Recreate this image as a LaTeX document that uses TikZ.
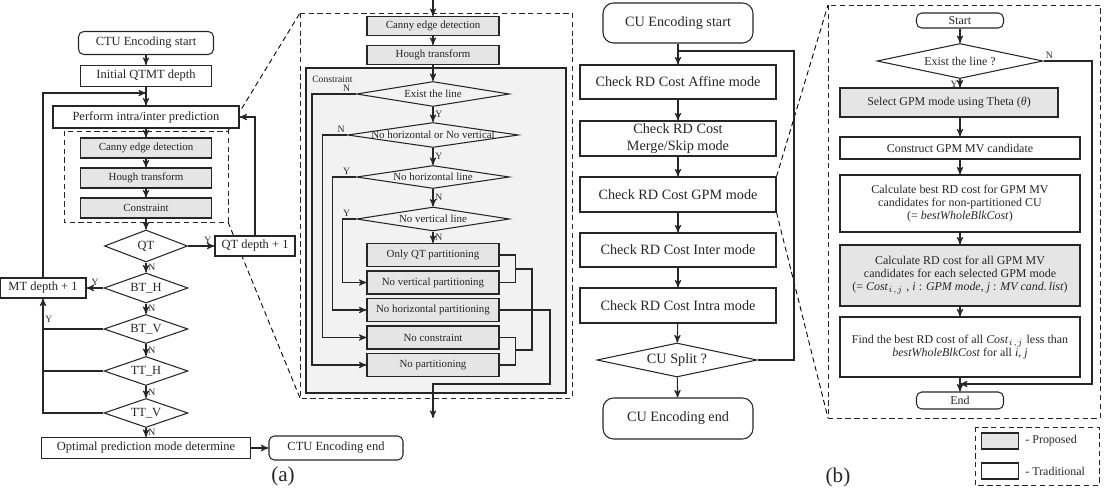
\documentclass[tikz,border=0pt]{standalone}
\usepackage{fontspec}
\setmainfont{Liberation Serif}
\usepackage{tikz}
\usetikzlibrary{
        arrows,
        backgrounds,
        positioning,
        shapes.geometric
    }
\tikzset{>=stealth',auto}
\tikzset{
    wh/.style 2 args={minimum width=#1*0.02cm, minimum height=#2*0.02cm},
    txa/.style={font=\fontsize{7.1}{8}\selectfont},
    txs/.style={font=\fontsize{6.2}{7}\selectfont},
    txc/.style={font=\fontsize{8.1}{9.4}\selectfont},
    txr/.style={font=\fontsize{6.8}{7.4}\selectfont},
    yn/.style={font=\fontsize{5.5}{6}\selectfont, inner sep=1pt},
    blk/.style={rectangle, draw, fill=white, inner sep=1pt, align=center},
    prop/.style={blk, fill=black!10},
    term/.style={blk, rounded corners=3pt},
    dec/.style={diamond, draw, fill=white, inner sep=0pt, label={[txa]center:#1}},
    sdec/.style={diamond, draw, fill=black!5, inner sep=0pt, label={[txs]center:#1}},
    cdec/.style={diamond, draw, fill=white, inner sep=0pt, label={[txc]center:#1}},
    rdec/.style={diamond, draw, fill=white, inner sep=0pt, label={[txr]center:#1}},
    zoomline/.style={densely dashed, line width=0.5pt}
}

\begin{document}
\begin{tikzpicture}[x=0.02cm,y=-0.02cm,line width=0.6pt,color=black!85]
    \useasboundingbox (0,0) rectangle (1107,493);

    % (a) QTMT flow
    \node[term, txa, wh={135}{23}] (ctus) at (146,43) {CTU Encoding start};
    \node[blk, txa, wh={131}{21}] (qtmt) at (146,76) {Initial QTMT depth};
    \node[blk, txa, wh={186}{22}] (pred) at (146,117) {Perform intra/inter prediction};
    \node[prop, txs, wh={131}{20}] (canA) at (146,148) {Canny edge detection};
    \node[prop, txs, wh={131}{20}] (houA) at (146,178) {Hough transform};
    \node[prop, txs, wh={131}{20}] (conA) at (146,208) {Constraint};
    \node[dec=QT, wh={83}{32}] (qt) at (146,246) {};
    \node[blk, txa, wh={80}{20}] (qtd) at (255,246) {QT depth + 1};
    \node[dec=BT\_H, wh={84}{30}] (bth) at (146,288) {};
    \node[dec=BT\_V, wh={84}{29}] (btv) at (146,329) {};
    \node[dec=TT\_H, wh={84}{29}] (tth) at (146,371) {};
    \node[dec=TT\_V, wh={84}{29}] (ttv) at (146,413) {};
    \node[blk, txa, wh={209}{21}] (opt) at (146,448) {Optimal prediction mode determine};
    \node[term, txa, wh={134}{24}] (ctue) at (336,448) {CTU Encoding end};
    \node[blk, txa, wh={86}{20}] (mtd) at (43,288) {MT depth + 1};
    \coordinate (jA) at (146,93);

    \draw[zoomline] (64,131) rectangle (228,222);

    \path[->]
        (ctus) edge (qtmt)
        (qtmt) edge (pred)
        (pred) edge (canA)
        (canA) edge (houA)
        (houA) edge (conA)
        (conA) edge (qt)
        (qt)  edge node[yn, pos=0.75] {Y} (qtd)
        (qt)  edge node[yn] {N} (bth)
        (bth) edge node[yn, swap] {Y} (mtd)
        (bth) edge node[yn] {N} (btv)
        (btv) edge node[yn] {N} (tth)
        (tth) edge node[yn] {N} (ttv)
        (ttv) edge node[yn] {N} (opt)
        (opt) edge (ctue)
        ;
    \draw[->] (mtd.north) |- (jA);
    \draw[->] (qtd.north) |- (pred.east);
    \draw (btv.west) -- (btv.west -| mtd);
    \draw (tth.west) -- (tth.west -| mtd);
    \draw[->] (ttv.west) -| node[yn, right, pos=0.91] {Y} (mtd.south);
    \node[font=\fontsize{12}{14}\selectfont] (capa) at (283,476) {(a)};

    % constraint detail
    \draw[zoomline] (300,13) rectangle (572,398);
    \coordinate (inB) at (433,0);
    \coordinate (outB) at (433,418);
    \node[prop, txs, wh={132}{19}] (canB) at (433,26) {Canny edge detection};
    \node[prop, txs, wh={132}{19}] (houB) at (433,55) {Hough transform};
    \draw[fill=black!5] (306,68) rectangle (566,393);
    \node[yn, anchor=west] (cst) at (310,79) {Constraint};
    \node[sdec=Exist the line, wh={153}{25}] (ext) at (433,94) {};
    \node[sdec=No horizontal or No vertical, wh={171}{25}] (nhv) at (433,135) {};
    \node[sdec=No horizontal line, wh={153}{23}] (nhl) at (433,177) {};
    \node[sdec=No vertical line, wh={153}{24}] (nvl) at (433,219) {};
    \node[prop, txs, wh={132}{23}] (oqt) at (433,255) {Only QT partitioning};
    \node[prop, txs, wh={132}{23}] (nvp) at (433,282.5) {No vertical partitioning};
    \node[prop, txs, wh={132}{23}] (nhp) at (433,310) {No horizontal partitioning};
    \node[prop, txs, wh={132}{23}] (nco) at (433,337.5) {No constraint};
    \node[prop, txs, wh={132}{23}] (npa) at (433,365) {No partitioning};

    \path[->]
        (inB)  edge (canB)
        (canB) edge (houB)
        (houB) edge (ext)
        (ext)  edge node[yn] {Y} (nhv)
        (nhv)  edge node[yn] {Y} (nhl)
        (nhl)  edge node[yn] {N} (nvl)
        (nvl)  edge node[yn] {N} (oqt)
        ;
    \draw[->] (ext.west) node[yn, above left, xshift=-2pt] {N} -- ++(-44,0) |- (npa.west);
    \draw[->] (nhv.west) node[yn, above left] {N} -- ++(-24.5,0) |- (nco.west);
    \draw[->] (nhl.west) node[yn, above left, xshift=-2pt] {Y} -- ++(-23.5,0) |- (nhp.west);
    \draw[->] (nvl.west) node[yn, above left, xshift=-2pt] {Y} -- ++(-13.5,0) |- (nvp.west);
    \draw (oqt.east) -- ++(16,0) |- (nvp.east);
    \draw (515,269) -- (532,269) -- (532,350) -- (515,350);
    \draw (nco.east) -- ++(16,0) |- (npa.east);
    \draw[->] (nhp.east) -| (550,384) -| (outB);

    % CU flow
    \node[term, txc, rounded corners=6pt, wh={150}{40}] (cus) at (678,23) {CU Encoding start};
    \node[blk, txc, wh={196}{34}] (aff) at (678,82) {Check RD Cost Affine mode};
    \node[blk, txc, wh={196}{35}] (mrg) at (678,138.5) {Check RD Cost\\Merge/Skip mode};
    \node[blk, txc, wh={196}{35}] (gpm) at (678,194.5) {Check RD Cost GPM mode};
    \node[blk, txc, wh={196}{34}] (inter) at (678,250) {Check RD Cost Inter mode};
    \node[blk, txc, wh={196}{35}] (intra) at (678,305.5) {Check RD Cost Intra mode};
    \node[cdec=CU Split ?, wh={160}{34}] (spl) at (677,360) {};
    \node[term, txc, rounded corners=6pt, wh={150}{41}] (cue) at (678,418.5) {CU Encoding end};
    \coordinate (jC) at (678,51);

    \path[->]
        (cus)   edge (aff)
        (aff)   edge (mrg)
        (mrg)   edge (gpm)
        (gpm)   edge (inter)
        (inter) edge (intra)
        (intra) edge (spl)
        (spl)   edge (cue)
        ;
    \draw (spl.east) -| (794,51) -- (jC);

    % (b) GPM detail
    \draw[zoomline] (828,5) rectangle (1100,418);
    \node[term, txr, wh={87}{15}] (st) at (960,20.5) {Start};
    \node[rdec=Exist the line ?, wh={166}{35}] (exr) at (960,61) {};
    \node[prop, txr, wh={218}{29}] (sel) at (949,102.5) {Select GPM mode using Theta (\textit{θ})};
    \node[blk, txr, wh={240}{22}] (cons) at (960,148) {Construct GPM MV candidate};
    \node[blk, txr, wh={240}{57}] (cbest) at (960,203.5) {Calculate best RD cost for GPM MV\\candidates for non-partitioned CU\\(= \textit{bestWholeBlkCost})};
    \node[prop, txr, wh={240}{61}] (call) at (960,275.5) {Calculate RD cost for all GPM MV\\candidates for each selected GPM mode\\(= \textit{Cost}$_{i,j}$ , \textit{i} : \textit{GPM mode}, \textit{j} : \textit{MV cand.\,list})};
    \node[blk, txr, wh={240}{60}] (find) at (960,347) {Find the best RD cost of all \textit{Cost}$_{i,j}$ less than\\\textit{bestWholeBlkCost} for all \textit{i}, \textit{j}};
    \node[term, txr, wh={87}{17}] (en) at (960,400.5) {End};
    \coordinate (jR) at (960,384);

    \path[->]
        (st)    edge (exr)
        (cons)  edge (cbest)
        (cbest) edge (call)
        (call)  edge (find)
        (find)  edge (en)
        ;
    \draw[->] (exr.south) -- node[yn, swap, pos=0.6] {Y} (exr.south |- sel.north);
    \draw[->] (cons.north |- sel.south) -- (cons.north);
    \draw[->] (exr.east) node[yn, above right] {N} -| (1092,384) -- (jR);

    % legend
    \draw[zoomline] (975,427) rectangle (1099,485);
    \node[prop, wh={37}{16}] (lgp) at (1000,441) {};
    \node[txr, anchor=west] (lgpt) at (lgp.east) {- Proposed};
    \node[blk, wh={37}{16}] (lgt) at (1000,471) {};
    \node[txr, anchor=west] (lgtt) at (lgt.east) {- Traditional};
    \node[font=\fontsize{12}{14}\selectfont] (capb) at (838,477) {(b)};

    % zoom lines
    \begin{scope}[on background layer]
        \draw[zoomline] (228,131) -- (300,13);
        \draw[zoomline] (228,222) -- (300,398);
        \draw[zoomline] (gpm.north east) -- (828,5);
        \draw[zoomline] (gpm.south east) -- (828,418);
    \end{scope}
\end{tikzpicture}
\end{document}
